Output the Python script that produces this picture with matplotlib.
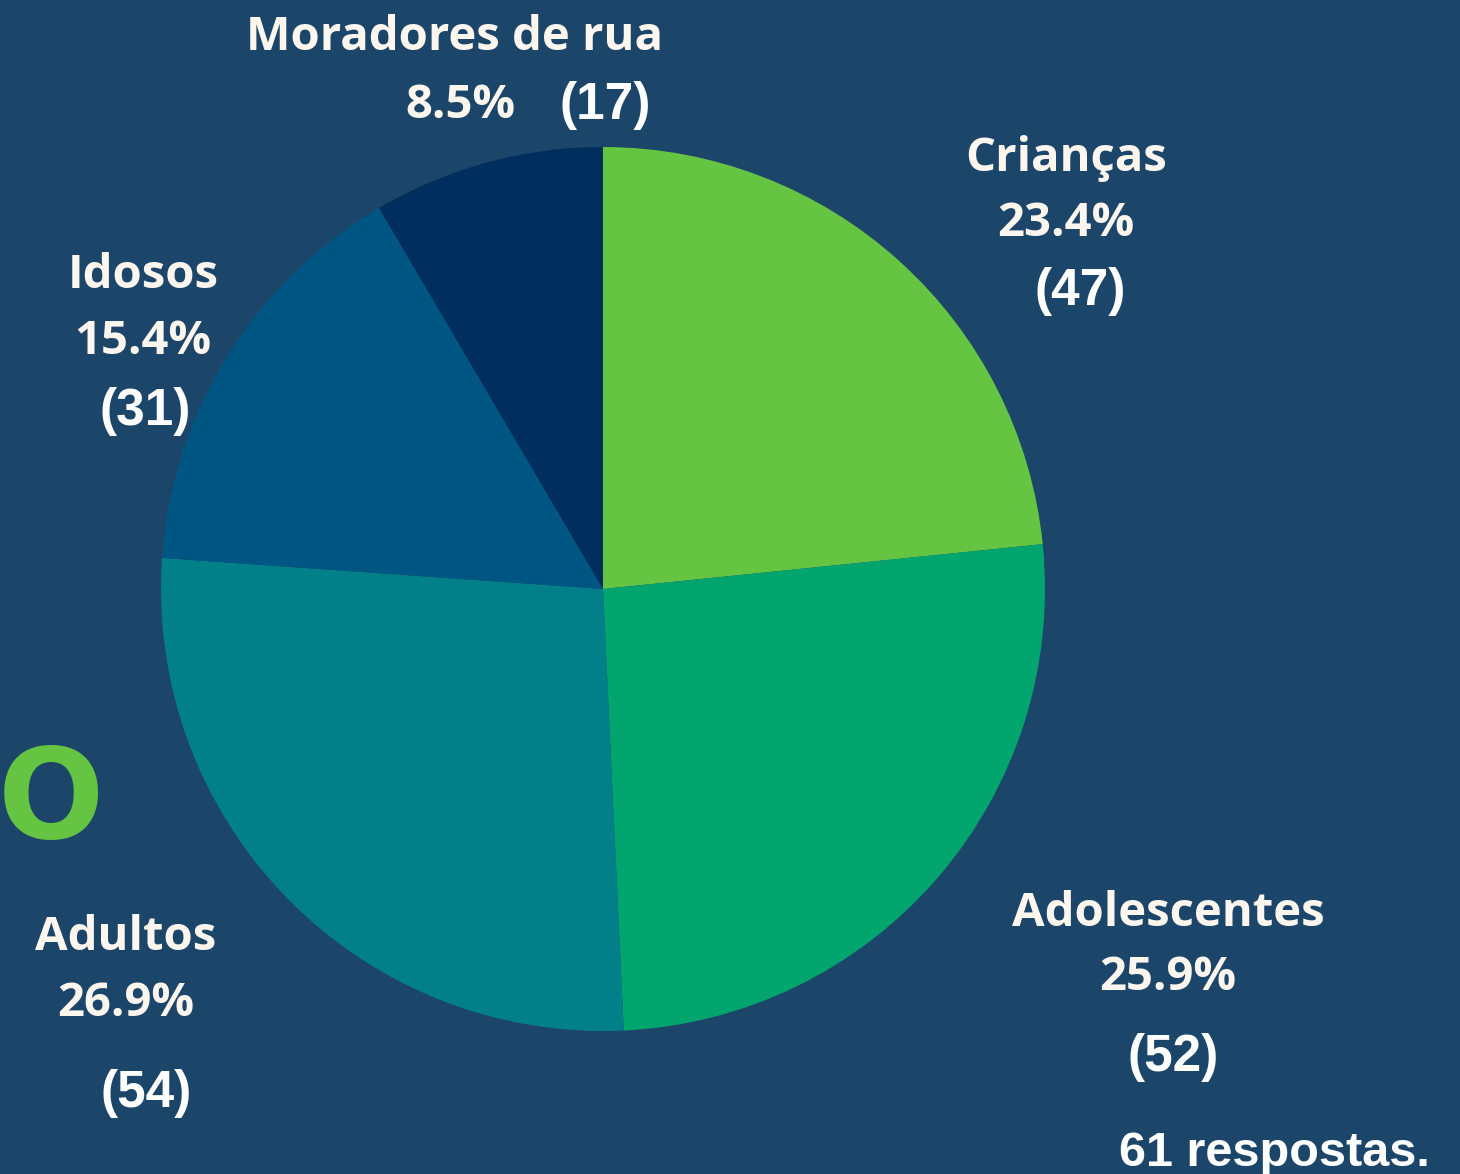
import matplotlib
matplotlib.use("Agg")
import matplotlib.pyplot as plt

# data
categorias = ["Crianças", "Adolescentes", "Adultos", "Idosos", "Moradores de rua"]
contagens = [47, 52, 54, 31, 17]
cores = ["#66c443", "#02a56e", "#02808a", "#005683", "#002f5f"]
total_respostas = 61

fundo = "#1c4669"
creme = "#fdf6ee"

W, H = 1460, 1174
fig = plt.figure(figsize=(W / 100, H / 100), dpi=100, facecolor=fundo)
ax = fig.add_axes([0, 0, 1, 1])
ax.set_facecolor(fundo)
ax.set_xlim(0, W)
ax.set_ylim(0, H)
ax.set_aspect("equal")
ax.axis("off")

ax.pie(contagens, colors=cores, startangle=90, counterclock=False,
       center=(603, H - 589), radius=442, wedgeprops=dict(linewidth=0))
ax.set_xlim(0, W)
ax.set_ylim(0, H)

total = sum(contagens)
pct = [f"{c / total * 100:.1f}%" for c in contagens]

# label positions (pixel, from top): name, pct, count
pos = {
    "Crianças": [(1066, 158), (1066, 224), (1080, 291)],
    "Adolescentes": [(1168, 913), (1168, 978), (1173, 1058)],
    "Adultos": [(126, 938), (126, 1003), (146, 1093)],
    "Idosos": [(143, 275), (143, 341), (145, 411)],
    "Moradores de rua": [(455, 38), (460, 105), (605, 105)],
}

fs_lab = 34
fs_num = 37
for cat, c, p in zip(categorias, contagens, pct):
    (x1, y1), (x2, y2), (x3, y3) = pos[cat]
    ax.text(x1, H - y1, cat, ha="center", va="center", fontsize=fs_lab,
            fontweight="bold", family="Open Sans", color=creme)
    ax.text(x2, H - y2, p, ha="center", va="center", fontsize=fs_lab,
            fontweight="bold", family="Open Sans", color=creme)
    ax.text(x3, H - y3, f"({c})", ha="center", va="center", fontsize=fs_num,
            fontweight="bold", family="Liberation Sans", color="white")

ax.text(1274, H - 1154, f"{total_respostas} respostas.", ha="center", va="center",
        fontsize=35, fontweight="bold", family="Liberation Sans", color="white")

# green O at the left edge
ax.text(-2, H - 804, "O", ha="left", va="center", fontsize=90,
        fontweight="bold", family="DejaVu Sans", color="#66c443")

fig.savefig("out.png", dpi=100, facecolor=fundo)
